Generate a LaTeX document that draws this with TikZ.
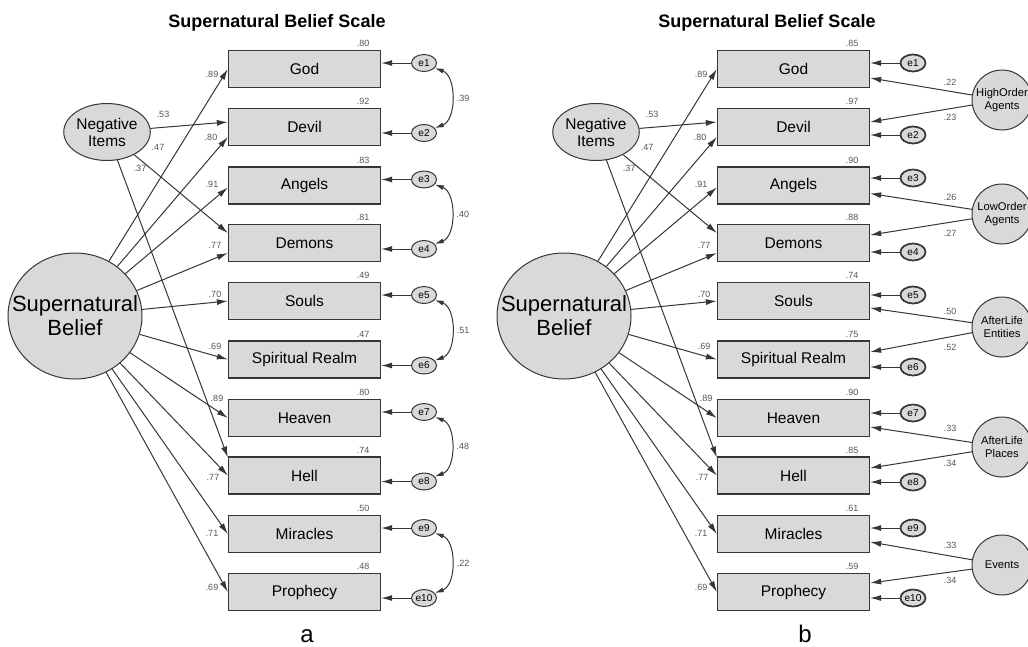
\documentclass[tikz,border=0pt]{standalone}
\usepackage{fontspec}
\setmainfont{Liberation Sans}
\usetikzlibrary{arrows.meta,shapes.geometric}
\definecolor{fillgray}{HTML}{D9D9D9}
\definecolor{linegray}{HTML}{363636}
\definecolor{numgray}{HTML}{555555}
\tikzset{
  heading/.style={inner sep=0pt,font=\bfseries\fontsize{18}{20}\selectfont},
  item/.style={rectangle,draw=linegray,line width=1.3pt,fill=fillgray,minimum width=152pt,minimum height=37pt,inner sep=0pt,font=\fontsize{15.5}{17}\selectfont},
  latent/.style={ellipse,draw=linegray,line width=1pt,fill=fillgray,inner sep=0pt,align=center},
  factor/.style={circle,draw=linegray,line width=1pt,fill=fillgray,minimum size=60pt,inner sep=0pt,align=center,font=\fontsize{11.2}{13}\selectfont},
  err/.style={ellipse,draw=linegray,line width=1pt,fill=fillgray,minimum width=25pt,minimum height=17pt,inner sep=0pt,font=\fontsize{10}{10}\selectfont},
  num/.style={text=numgray,inner sep=0pt,font=\fontsize{9}{9}\selectfont},
  load/.style={draw=linegray,line width=1pt,-{Latex[length=11pt,width=6pt]}},
  cov/.style={draw=linegray,line width=1pt,{Latex[length=9pt,width=5pt]}-{Latex[length=9pt,width=5pt]}},
  bigfactor/.style={latent,minimum width=134pt,minimum height=126pt,inner xsep=-30pt,font=\fontsize{22}{24}\selectfont},
  panel/.style={anchor=base,inner sep=0pt,font=\fontsize{24}{24}\selectfont}
}

\begin{document}
\begin{tikzpicture}[x=1pt,y=-1pt]
  \useasboundingbox (0,0) rectangle (1028,646);

  % panel a
  \node[heading] (atitle) at (277,23) {Supernatural Belief Scale};
  \node[bigfactor] (asb) at (75,316) {Supernatural\\Belief};
  \node[latent,minimum width=85pt,minimum height=57pt,font=\fontsize{15.5}{17}\selectfont] (ani) at (107,132) {Negative\\Items};
  \foreach \y/\name/\txt in {69/god/God, 127/devil/Devil, 185.5/angels/Angels, 243/demons/Demons, 301/souls/Souls, 359.5/realm/Spiritual Realm, 418/heaven/Heaven, 475.5/hell/Hell, 534/miracles/Miracles, 592/prophecy/Prophecy}
        \node[item] (a\name) at (304.5,\y) {\txt};
  \foreach \i/\y/\name in {1/63/god, 2/133/devil, 3/179.5/angels, 4/249/demons, 5/295/souls, 6/365.5/realm, 7/412/heaven, 8/481.5/hell, 9/528/miracles, 10/598/prophecy}
   {\node[err] (ae\i) at (424,\y) {e\i};
    \draw[load] (ae\i) -- (a\name.east |- ae\i);}

  \foreach \name/\s/\lx/\ly/\v in {god/0/212/74/.89, devil/-10/211/137/.80, angels/-2/212/184/.91, demons/-10/215/245/.77, souls/0/215/294/.70, realm/0/215/346/.69, heaven/0/217/398/.89, hell/0/213/477/.77, miracles/0/212/533/.71, prophecy/0/212/587/.69}
   {\draw[load] (asb) -- ([yshift=\s pt]a\name.west);
    \node[num] at (\lx,\ly) {\v};}
  \foreach \name/\s/\lx/\ly/\v in {devil/5/163/114/.53, demons/10/158/147/.47, hell/18/140/168/.37}
   {\draw[load] (ani) -- ([yshift=\s pt]a\name.west);
    \node[num] at (\lx,\ly) {\v};}
  \foreach \name/\v in {god/.80, devil/.92, angels/.83, demons/.81, souls/.49, realm/.47, heaven/.80, hell/.74, miracles/.50, prophecy/.48}
        \node[num,anchor=south] at ([xshift=-18pt,yshift=3pt]a\name.north east) {\v};
  \foreach \i/\j/\v in {1/2/.39, 3/4/.40, 5/6/.51, 7/8/.48, 9/10/.22}
        \draw[cov] (ae\i.-25) to[bend left=70] node[num,right=5pt] {\v} (ae\j.25);
  \node[panel] (alabel) at (307,642) {a};

  % panel b
  \begin{scope}[xshift=489pt]
  \node[heading] (btitle) at (278,23) {Supernatural Belief Scale};
  \node[bigfactor] (bsb) at (75,316) {Supernatural\\Belief};
  \node[latent,minimum width=85pt,minimum height=57pt,font=\fontsize{15.5}{17}\selectfont] (bni) at (107,132) {Negative\\Items};
  \foreach \y/\name/\txt in {69/god/God, 127/devil/Devil, 185.5/angels/Angels, 243/demons/Demons, 301/souls/Souls, 359.5/realm/Spiritual Realm, 418/heaven/Heaven, 475.5/hell/Hell, 534/miracles/Miracles, 592/prophecy/Prophecy}
        \node[item] (b\name) at (304.5,\y) {\txt};
  \foreach \i/\y/\name in {1/63/god, 2/135/devil, 3/178/angels, 4/252/demons, 5/295/souls, 6/367/realm, 7/413/heaven, 8/482/hell, 9/528/miracles, 10/598/prophecy}
   {\node[err,line width=1.7pt] (be\i) at (424,\y) {e\i};
    \draw[load] (be\i) -- (b\name.east |- be\i);}

  \foreach \name/\s/\lx/\ly/\v in {god/0/212/74/.89, devil/-10/211/137/.80, angels/-2/212/184/.91, demons/-10/215/245/.77, souls/0/215/294/.70, realm/0/215/346/.69, heaven/0/217/398/.89, hell/0/213/477/.77, miracles/0/212/533/.71, prophecy/0/212/587/.69}
   {\draw[load] (bsb) -- ([yshift=\s pt]b\name.west);
    \node[num] at (\lx,\ly) {\v};}
  \foreach \name/\s/\lx/\ly/\v in {devil/5/163/114/.53, demons/10/158/147/.47, hell/18/140/168/.37}
   {\draw[load] (bni) -- ([yshift=\s pt]b\name.west);
    \node[num] at (\lx,\ly) {\v};}
  \foreach \name/\v in {god/.85, devil/.97, angels/.90, demons/.88, souls/.74, realm/.75, heaven/.90, hell/.85, miracles/.61, prophecy/.59}
        \node[num,anchor=south] at ([xshift=-18pt,yshift=3pt]b\name.north east) {\v};

  \foreach \y/\name/\txt in {100/hoa/HighOrder\\Agents, 214/loa/LowOrder\\Agents, 327/ale/AfterLife\\Entities, 447/alp/AfterLife\\Places, 565/ev/Events}
        \node[factor] (b\name) at (513,\y) {\txt};
  \foreach \f/\name/\s/\ly/\v in {hoa/god/-9/82/.22, hoa/devil/5/117/.23, loa/angels/-8/197/.26, loa/demons/8/233/.27, ale/souls/-7/311/.50, ale/realm/7.5/347/.52, alp/heaven/-9/428/.33, alp/hell/7.5/463/.34, ev/miracles/-8/545/.33, ev/prophecy/9/580/.34}
   {\draw[load] (b\f) -- ([yshift=\s pt]b\name.east);
    \node[num] at (461,\ly) {\v};}
  \node[panel] (blabel) at (316,642) {b};
  \end{scope}
\end{tikzpicture}
\end{document}
